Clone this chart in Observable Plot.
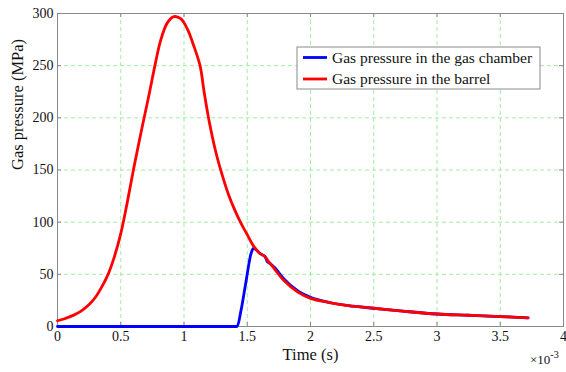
<!DOCTYPE html>
<html>
<head>
<meta charset="utf-8">
<script src="https://cdn.jsdelivr.net/npm/d3@7"></script>
<script src="https://cdn.jsdelivr.net/npm/@observablehq/plot@0.6"></script>
<style>
  html, body { margin: 0; padding: 0; background: #fff; }
</style>
</head>
<body>
<div id="chart"></div>
<script>
// Time in units of 1e-3 s, pressure in MPa
const barrelTime = [0, 0.05, 0.1, 0.15, 0.2, 0.25, 0.3, 0.35, 0.4, 0.45, 0.5, 0.55, 0.6, 0.65, 0.69, 0.73, 0.77, 0.815, 0.868, 0.92, 0.974, 1.027, 1.08, 1.127, 1.16, 1.2, 1.25, 1.3, 1.35, 1.4, 1.45, 1.5, 1.55, 1.6, 1.64, 1.67, 1.71, 1.79, 1.9, 2.0, 2.15, 2.3, 2.5, 2.75, 3.0, 3.25, 3.5, 3.72];
const barrelPressure = [5.5, 7.2, 9.5, 12.3, 16, 21, 28, 38, 50, 67, 89, 118, 150, 180, 203, 226, 250, 274, 291, 297, 295, 285, 268, 250, 224, 196, 168, 146, 127, 112, 99, 88, 77, 70, 67, 62, 56, 44, 33, 27, 23, 20, 17.5, 14.5, 12, 10.8, 9.5, 8.3];

const chamberTime = [0, 1.42, 1.45, 1.49, 1.53, 1.55, 1.6, 1.64, 1.66, 1.68, 1.72, 1.79, 1.9, 2.0, 2.15, 2.3, 2.5, 2.75, 3.0, 3.25, 3.5, 3.72];
const chamberPressure = [0, 0, 15, 43, 70, 75, 70, 67, 62, 60.5, 56, 45.5, 34, 28, 23, 20, 17.5, 14.5, 12, 10.8, 9.5, 8.3];

const xTicks = [0, 0.5, 1, 1.5, 2, 2.5, 3, 3.5, 4];
const yTicks = [0, 50, 100, 150, 200, 250, 300];

const seriesNames = ["Gas pressure in the gas chamber", "Gas pressure in the barrel"];
const seriesColors = ["#0000ff", "#ff0000"];

const barrel = barrelTime.map((t, i) => ({t, p: barrelPressure[i]}));
const chamber = chamberTime.map((t, i) => ({t, p: chamberPressure[i]}));

const font = "'Liberation Serif', 'Times New Roman', Times, serif";
const gridStyle = {stroke: "#a3eca3", strokeOpacity: 1, strokeDasharray: "4,3", strokeWidth: 1};
const tickStyle = {stroke: "#8a8a8a", strokeWidth: 1};

const plot = Plot.plot({
  width: 566,
  height: 372,
  marginLeft: 57,
  marginRight: 3,
  marginTop: 13,
  marginBottom: 46,
  style: {fontFamily: font, fontSize: "14px", background: "#fff", color: "#000", overflow: "visible"},
  x: {domain: [0, 4], ticks: xTicks},
  y: {domain: [0, 300], ticks: yTicks},
  marks: [
    Plot.gridX(xTicks, gridStyle),
    Plot.gridY(yTicks, gridStyle),
    // inward ticks on all four sides
    Plot.ruleX(xTicks, {x: d => d, insetTop: 309, ...tickStyle}),
    Plot.ruleX(xTicks, {x: d => d, insetBottom: 309, ...tickStyle}),
    Plot.ruleY(yTicks, {y: d => d, insetRight: 502, ...tickStyle}),
    Plot.ruleY(yTicks, {y: d => d, insetLeft: 502, ...tickStyle}),
    Plot.frame({stroke: "#8a8a8a", strokeWidth: 1}),
    Plot.axisX(xTicks, {tickSize: 0, tickPadding: 5, tickFormat: d => String(d), label: null, fontSize: 14, fill: "#111"}),
    Plot.axisY(yTicks, {tickSize: 0, tickPadding: 4, tickFormat: d => String(d), label: null, fontSize: 14, fill: "#111"}),
    Plot.line(chamber, {x: "t", y: "p", stroke: seriesColors[0], strokeWidth: 2.8, curve: "monotone-x"}),
    Plot.line(barrel, {x: "t", y: "p", stroke: seriesColors[1], strokeWidth: 2.8, curve: "catmull-rom"}),
    Plot.text(["Time (s)"], {text: d => d, frameAnchor: "bottom", dy: 33, fontSize: 16.5, fill: "#111"}),
    Plot.text(["Gas pressure (MPa)"], {text: d => d, frameAnchor: "left", rotate: -90, dx: -40, fontSize: 16.5, fill: "#111"})
  ]
});

document.getElementById("chart").appendChild(plot);

// exponent label and legend
const svg = d3.select(plot);
const expo = svg.append("text")
  .attr("x", 530).attr("y", 364).attr("text-anchor", "start")
  .attr("font-family", font).attr("font-size", 13).attr("fill", "#111");
expo.append("tspan").text("×10");
expo.append("tspan").attr("dy", -6).attr("font-size", 10).text("-3");

const lg = svg.append("g").attr("font-family", font).attr("font-size", 15.5).attr("text-anchor", "start");
lg.append("rect").attr("x", 297).attr("y", 47).attr("width", 243).attr("height", 42)
  .attr("fill", "#fff").attr("stroke", "#8a8a8a").attr("stroke-width", 1);
seriesNames.forEach((name, i) => {
  const cy = 57.5 + i * 21.5;
  lg.append("line").attr("x1", 303).attr("x2", 327).attr("y1", cy).attr("y2", cy)
    .attr("stroke", seriesColors[i]).attr("stroke-width", 2.8);
  lg.append("text").attr("x", 332).attr("y", cy).attr("dy", "0.35em").attr("fill", "#111").text(name);
});
</script>
</body>
</html>
